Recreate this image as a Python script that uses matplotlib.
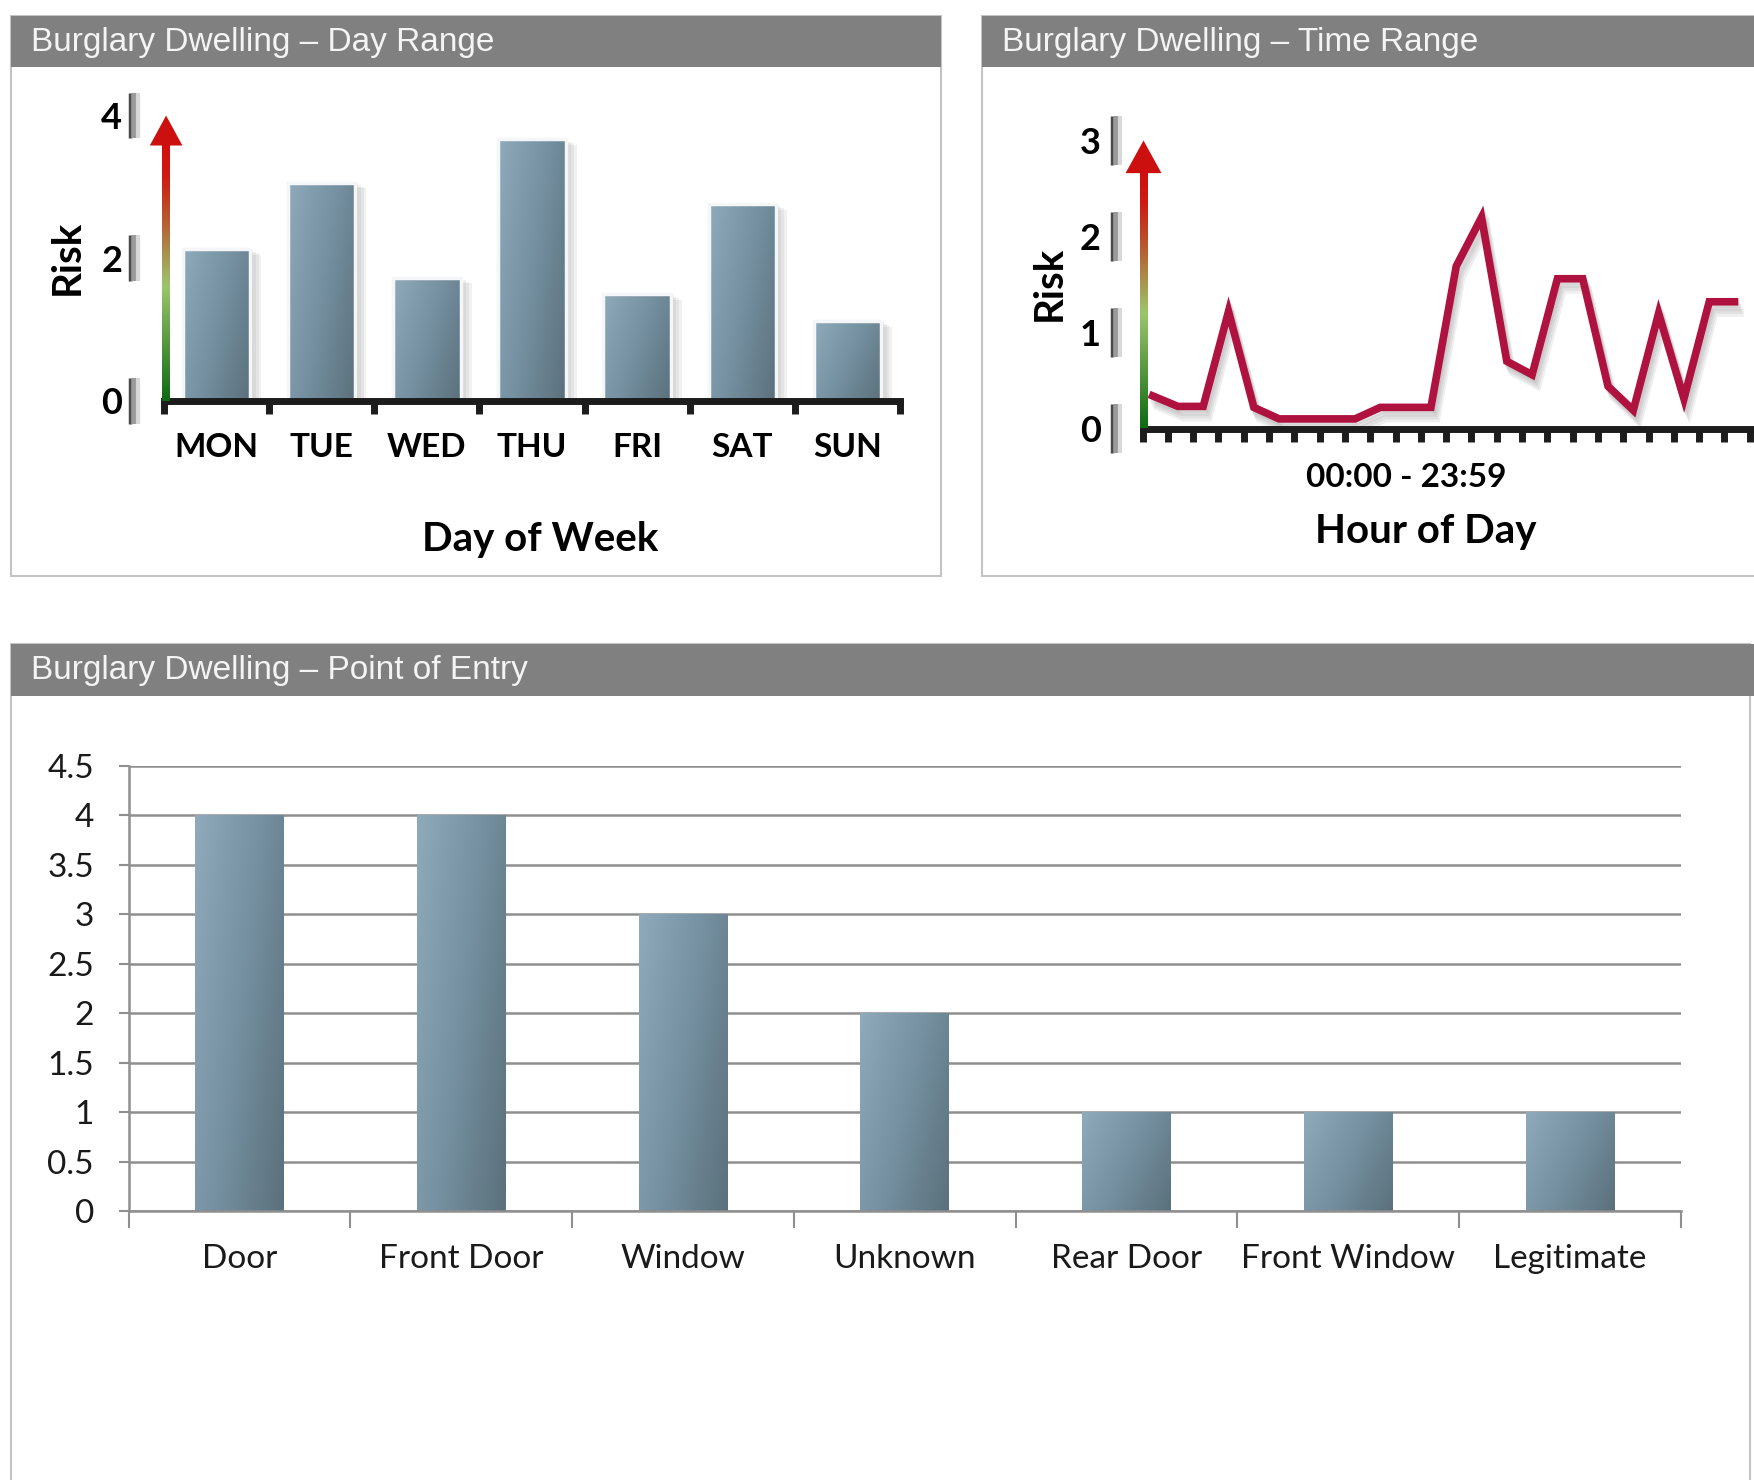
import numpy as np
import matplotlib
matplotlib.use('Agg')
import matplotlib.pyplot as plt
import matplotlib.patheffects as pe
import matplotlib.transforms as mtransforms
from matplotlib.patches import Rectangle, Polygon
from matplotlib.colors import LinearSegmentedColormap

plt.rcParams['font.family'] = ['Lato', 'DejaVu Sans']

# data
days = ['MON', 'TUE', 'WED', 'THU', 'FRI', 'SAT', 'SUN']
day_risk = [2.13, 3.06, 1.73, 3.67, 1.50, 2.76, 1.12]

hours = list(range(24))
hour_risk = [0.34, 0.23, 0.23, 1.22, 0.22, 0.10, 0.10, 0.10, 0.10, 0.22, 0.22, 0.22,
             1.69, 2.20, 0.70, 0.56, 1.56, 1.56, 0.44, 0.19, 1.20, 0.31, 1.32, 1.32]

entries = ['Door', 'Front Door', 'Window', 'Unknown', 'Rear Door', 'Front Window', 'Legitimate']
entry_risk = [4, 4, 3, 2, 1, 1, 1]

W, H = 1754, 1480
fig = plt.figure(figsize=(W / 100, H / 100), dpi=100)

bar_cmap = LinearSegmentedColormap.from_list('steel', ['#8eaabb', '#7590a0', '#5b707c'])
arrow_cmap = LinearSegmentedColormap.from_list(
    'risk', [(0, '#0f6a14'), (0.45, '#9cc66c'), (0.72, '#b8562c'), (0.88, '#cf1a12'), (1, '#d40e0e')])

# soft shadows built from a few faint offset copies
bar_shadow = [pe.SimplePatchShadow(offset=(k, -k / 2), shadow_rgbFace='#7a7a7a', alpha=0.1)
              for k in (2, 4, 6, 8)] + [pe.Normal()]
line_shadow = [pe.SimpleLineShadow(offset=(k / 2, -k), shadow_color='#6a6a6a', alpha=0.1)
               for k in (2, 4, 6, 8)] + [pe.Normal()]


def box(x0, y0, x1, y1):
    return [x0 / W, 1 - y1 / H, (x1 - x0) / W, (y1 - y0) / H]


def panel(x0, y0, x1, y1, title, head=51, head_x1=None):
    head_x1 = x1 if head_x1 is None else head_x1
    fig.patches.append(Rectangle((x0 / W, 1 - y1 / H), (x1 - x0) / W, (y1 - y0) / H,
                                 transform=fig.transFigure, facecolor='white',
                                 edgecolor='#c4c4c4', lw=1.5, zorder=-2))
    fig.patches.append(Rectangle((x0 / W, 1 - (y0 + head) / H), (head_x1 - x0) / W, head / H,
                                 transform=fig.transFigure, facecolor='#808080',
                                 edgecolor='none', zorder=-1))
    fig.text((x0 + 20) / W, 1 - (y0 + head / 2 + 1) / H, title, color='#f4f4f4', fontsize=24,
             family='Liberation Sans', va='center', ha='left')


def gradient_fill(ax, bars):
    gx, gy = np.meshgrid(np.linspace(0, 1, 60), np.linspace(0, 1, 120))
    grad = 0.65 * gx + 0.35 * gy
    for b in bars:
        x0, y0 = b.get_xy()
        im = ax.imshow(grad, extent=[x0, x0 + b.get_width(), y0, y0 + b.get_height()],
                       cmap=bar_cmap, aspect='auto', interpolation='bilinear',
                       zorder=b.get_zorder() + 0.1)
        im.set_clip_path(b)


def risk_arrow(ax, x, base, top, shaft_w, head_w):
    # shaft: vertical green-to-red gradient, head: solid red triangle
    grad = np.linspace(1, 0, 200).reshape(-1, 1)
    im = ax.imshow(grad, extent=[x - shaft_w / 2, x + shaft_w / 2, 0, base], cmap=arrow_cmap,
                   aspect='auto', interpolation='bilinear', zorder=6)
    im.set_clip_on(False)
    ax.add_patch(Polygon([(x - head_w / 2, base), (x + head_w / 2, base), (x, top)],
                         closed=True, facecolor='#cc0f0f', edgecolor='none',
                         zorder=6, clip_on=False))


def label_bars(ax, ticks, dx, half):
    base = mtransforms.blended_transform_factory(ax.transAxes, ax.transData)
    for off, col, lw in [(dx, '#4a4a4a', 2.5), (dx + 4, '#9a9a9a', 4), (dx + 8, '#d8d8d8', 3)]:
        tr = base + mtransforms.ScaledTranslation(off / 100, 0, fig.dpi_scale_trans)
        for t in ticks:
            ax.plot([0, 0], [t - half, t + half], transform=tr, color=col, lw=lw,
                    solid_capstyle='butt', clip_on=False, zorder=1)


def bold_axis(ax, tick_len, tick_w):
    for s in ['top', 'right', 'left']:
        ax.spines[s].set_visible(False)
    ax.spines['bottom'].set(lw=5, color='#1c1c1c', zorder=5)
    ax.tick_params(axis='x', which='major', length=tick_len, width=tick_w, color='#1c1c1c',
                   direction='out', labelbottom=False)
    ax.tick_params(axis='y', length=0, pad=30, labelsize=26)
    for t in ax.get_yticklabels():
        t.set_fontweight('bold')
    ax.patch.set_alpha(0)


panel(11, 16, 941, 576, 'Burglary Dwelling \u2013 Day Range')
panel(982, 16, 1770, 576, 'Burglary Dwelling \u2013 Time Range')
panel(11, 644, 1750, 1500, 'Burglary Dwelling \u2013 Point of Entry', head=52, head_x1=1770)

# day of week bars
ax1 = fig.add_axes(box(164, 87, 900, 401))
xd = np.arange(len(days))
bars1 = ax1.bar(xd, day_risk, width=0.64, color='#7d98a8', zorder=2, path_effects=bar_shadow)
gradient_fill(ax1, bars1)
ax1.bar(xd, day_risk, width=0.64, fill=False, edgecolor='#f4f6f7', lw=2.5, zorder=3)
ax1.set_xlim(-0.5, 6.5)
ax1.set_ylim(0, 4.4)
ax1.set_xticks(np.arange(-0.5, 7, 1))
ax1.set_xticks(xd, minor=True)
ax1.set_xticklabels(days, minor=True, fontsize=24, fontweight='bold')
ax1.tick_params(axis='x', which='minor', length=0, pad=23)
ax1.set_yticks([0, 2, 4])
bold_axis(ax1, 9, 5)
risk_arrow(ax1, -0.48, 3.58, 4.0, 0.07, 0.31)
label_bars(ax1, [0, 2, 4], -34, 0.32)
fig.text(540 / W, 1 - 539 / H, 'Day of Week', ha='center', va='center', fontsize=29, fontweight='bold')
fig.text(67 / W, 1 - 257 / H, 'Risk', ha='center', va='center', rotation=90, fontsize=29, fontweight='bold')

# hour of day line
ax2 = fig.add_axes(box(1142.5, 111.7, 1142.5 + 25 * 25.3, 428.5))
ax2.plot(hours, hour_risk, color='#b0123f', lw=5.5, solid_joinstyle='miter', zorder=4,
         path_effects=line_shadow)
ax2.set_xlim(-0.4, 24.6)
ax2.set_ylim(0, 3.3)
ax2.set_xticks(np.arange(-0.4, 25, 1))
ax2.set_yticks([0, 1, 2, 3])
bold_axis(ax2, 9, 5)
risk_arrow(ax2, -0.36, 2.66, 3.0, 0.29, 1.42)
label_bars(ax2, [0, 1, 2, 3], -31, 0.26)
fig.text(1406 / W, 1 - 478 / H, '00:00 - 23:59', ha='center', va='center', fontsize=24, fontweight='bold')
fig.text(1426 / W, 1 - 532 / H, 'Hour of Day', ha='center', va='center', fontsize=29, fontweight='bold')
fig.text(1049 / W, 1 - 283 / H, 'Risk', ha='center', va='center', rotation=90, fontsize=29, fontweight='bold')

# point of entry bars
ax3 = fig.add_axes(box(128.6, 766, 1681, 1211))
xe = np.arange(len(entries))
bars3 = ax3.bar(xe, entry_risk, width=0.4, color='#7590a0', zorder=2)
gradient_fill(ax3, bars3)
ax3.set_xlim(-0.5, 6.5)
ax3.set_ylim(0, 4.5)
yt = np.arange(0, 4.51, 0.5)
ax3.set_yticks(yt)
ax3.set_yticklabels([f'{v:g}' for v in yt])
ax3.yaxis.grid(True, color='#8f8f8f', lw=1.8)
ax3.set_axisbelow(True)
for s in ['top', 'right']:
    ax3.spines[s].set_visible(False)
for s in ['left', 'bottom']:
    ax3.spines[s].set(color='#8f8f8f', lw=1.8)
ax3.set_xticks(np.arange(-0.5, 7, 1))
ax3.set_xticks(xe, minor=True)
ax3.set_xticklabels(entries, minor=True, fontsize=24, color='#1a1a1a')
ax3.tick_params(axis='x', which='major', length=12, width=1.5, color='#8f8f8f', labelbottom=False)
ax3.tick_params(axis='x', which='minor', length=0, pad=24)
ax3.tick_params(axis='y', length=7, width=1.5, color='#8f8f8f', pad=18, labelsize=24, labelcolor='#1a1a1a')
ax3.patch.set_alpha(0)

fig.savefig('out.png', dpi=100, facecolor='white')
